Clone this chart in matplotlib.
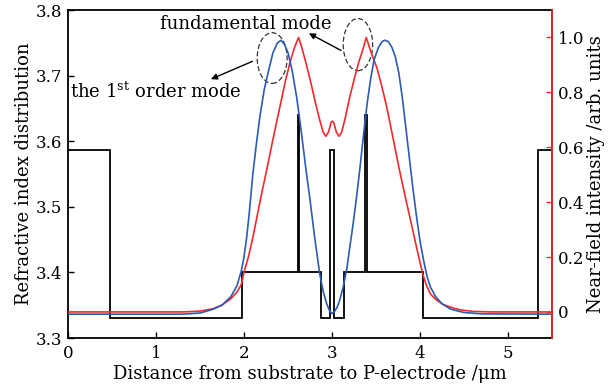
import matplotlib
matplotlib.use("Agg")
import matplotlib.pyplot as plt
from matplotlib.patches import Ellipse

plt.rcParams['font.family'] = ['DejaVu Serif']
plt.rcParams['mathtext.fontset'] = 'dejavuserif'
plt.rcParams['font.size'] = 12

# refractive index profile (step edges in um, index values between them)
index_edges = [0, 0.48, 1.98, 2.61, 2.63, 2.87, 2.98, 3.02, 3.14, 3.375, 3.395, 4.03, 5.34, 5.5]
index_values = [3.587, 3.33, 3.40, 3.64, 3.40, 3.33, 3.587, 3.33, 3.40, 3.64, 3.40, 3.33, 3.587]

# fundamental mode near-field intensity
fund_x = [0, 1.3, 1.5, 1.65, 1.75, 1.85, 1.92, 1.97, 2.0, 2.05, 2.1, 2.15, 2.2, 2.26, 2.33,
          2.41, 2.47, 2.52, 2.57, 2.62, 2.66, 2.71, 2.76, 2.81, 2.86, 2.9, 2.93, 2.96, 2.99,
          3.005, 3.02, 3.05, 3.08, 3.11, 3.15, 3.2, 3.25, 3.3, 3.35, 3.39, 3.44, 3.51, 3.56,
          3.62, 3.69, 3.765, 3.85, 3.91, 3.96, 4.03, 4.07, 4.12, 4.19, 4.26, 4.34, 4.45, 4.6,
          4.8, 5.5]
fund_y = [0.0, 0.0, 0.003, 0.012, 0.025, 0.048, 0.072, 0.10, 0.145, 0.20, 0.27, 0.35, 0.43,
          0.52, 0.63, 0.75, 0.84, 0.905, 0.96, 1.0, 0.96, 0.90, 0.835, 0.765, 0.70, 0.655, 0.64,
          0.655, 0.69, 0.695, 0.69, 0.655, 0.64, 0.655, 0.705, 0.78, 0.845, 0.905, 0.955, 1.0,
          0.95, 0.89, 0.83, 0.75, 0.64, 0.52, 0.395, 0.31, 0.237, 0.14, 0.10, 0.065, 0.043,
          0.028, 0.018, 0.008, 0.002, 0.0, 0.0]

# 1st order mode near-field intensity
first_x = [0, 1.3, 1.5, 1.65, 1.75, 1.85, 1.92, 1.97, 2.0, 2.03, 2.06, 2.1, 2.14, 2.18, 2.23,
           2.28, 2.33, 2.38, 2.42, 2.46, 2.5, 2.55, 2.6, 2.65, 2.7, 2.75, 2.8, 2.86, 2.9, 2.94,
           2.97, 3.0, 3.03, 3.06, 3.09, 3.13, 3.17, 3.2, 3.24, 3.28, 3.32, 3.36, 3.4, 3.44, 3.48,
           3.53, 3.57, 3.6, 3.64, 3.68, 3.72, 3.76, 3.8, 3.84, 3.88, 3.92, 3.96, 4.0, 4.04, 4.08,
           4.12, 4.18, 4.25, 4.35, 4.5, 4.7, 5.5]
first_y = [-0.008, -0.008, -0.004, 0.010, 0.025, 0.055, 0.095, 0.15, 0.20, 0.27, 0.36, 0.50,
           0.61, 0.71, 0.81, 0.88, 0.945, 0.98, 0.99, 0.975, 0.945, 0.875, 0.78, 0.66, 0.53,
           0.41, 0.28, 0.14, 0.075, 0.03, 0.006, -0.006, 0.002, 0.018, 0.045, 0.095, 0.16, 0.23,
           0.32, 0.42, 0.53, 0.65, 0.76, 0.85, 0.92, 0.965, 0.985, 0.99, 0.985, 0.965, 0.93,
           0.87, 0.78, 0.67, 0.56, 0.45, 0.35, 0.26, 0.19, 0.13, 0.09, 0.055, 0.03, 0.01,
           -0.002, -0.007, -0.008]

fig = plt.figure(figsize=(6.16, 3.91), dpi=100)
ax1 = fig.add_axes([0.1104, 0.1355, 0.7856, 0.8389])
ax1.stairs(index_values, index_edges, baseline=None, color='black', linewidth=1.3)
ax1.set_xlim(0, 5.5)
ax1.set_ylim(3.3, 3.8)
ax1.set_yticks([3.3, 3.4, 3.5, 3.6, 3.7, 3.8])
ax1.set_xticks([0, 1, 2, 3, 4, 5])
ax1.set_xlabel('Distance from substrate to P-electrode /\u03bcm', fontsize=13, labelpad=2)
ax1.set_ylabel('Refractive index distribution', fontsize=13, labelpad=2)
ax1.tick_params(axis='x', direction='in', length=4, width=1, pad=5)
ax1.tick_params(axis='y', direction='in', length=4, width=1, pad=4)
for s in ax1.spines.values():
    s.set_linewidth(1.3)

ax2 = ax1.twinx()
ax2.plot(fund_x, fund_y, color='#f22a2a', linewidth=1.2)
ax2.plot(first_x, first_y, color='#2a5bb5', linewidth=1.2)
ax2.set_ylim(-0.095, 1.1)
ax2.set_yticks([0, 0.2, 0.4, 0.6, 0.8, 1.0])
ax2.set_yticklabels(['0', '0.2', '0.4', '0.6', '0.8', '1.0'])
ax2.set_ylabel('Near-field intensity /arb. units', fontsize=13, labelpad=2)
ax2.tick_params(direction='in', length=4, width=1, color='#f22a2a', pad=4)
ax2.spines['right'].set_color('#f22a2a')
ax2.spines['right'].set_linewidth(1.3)
ax2.spines['left'].set_visible(False)
ax2.spines['top'].set_visible(False)
ax2.spines['bottom'].set_visible(False)

# annotations
ax2.add_patch(Ellipse((2.32, 0.925), 0.34, 0.185, fill=False, linestyle=(0, (4, 2)),
                      edgecolor='#333333', linewidth=0.9))
ax2.add_patch(Ellipse((3.295, 0.974), 0.334, 0.19, fill=False, linestyle=(0, (4, 2)),
                      edgecolor='#333333', linewidth=0.9))
ax2.annotate('', xy=(2.71, 1.02), xytext=(3.13, 0.948),
             arrowprops=dict(arrowstyle='-|>', color='black', lw=1, mutation_scale=9))
ax2.annotate('', xy=(1.595, 0.844), xytext=(2.125, 0.917),
             arrowprops=dict(arrowstyle='-|>', color='black', lw=1, mutation_scale=9))
ax2.text(2.02, 1.032, 'fundamental mode', fontsize=13, ha='center', va='baseline')
ax2.text(1.0, 0.78, r'the 1$^{\mathrm{st}}$ order mode', fontsize=13, ha='center',
         va='baseline')

fig.savefig('out.png', dpi=100)
